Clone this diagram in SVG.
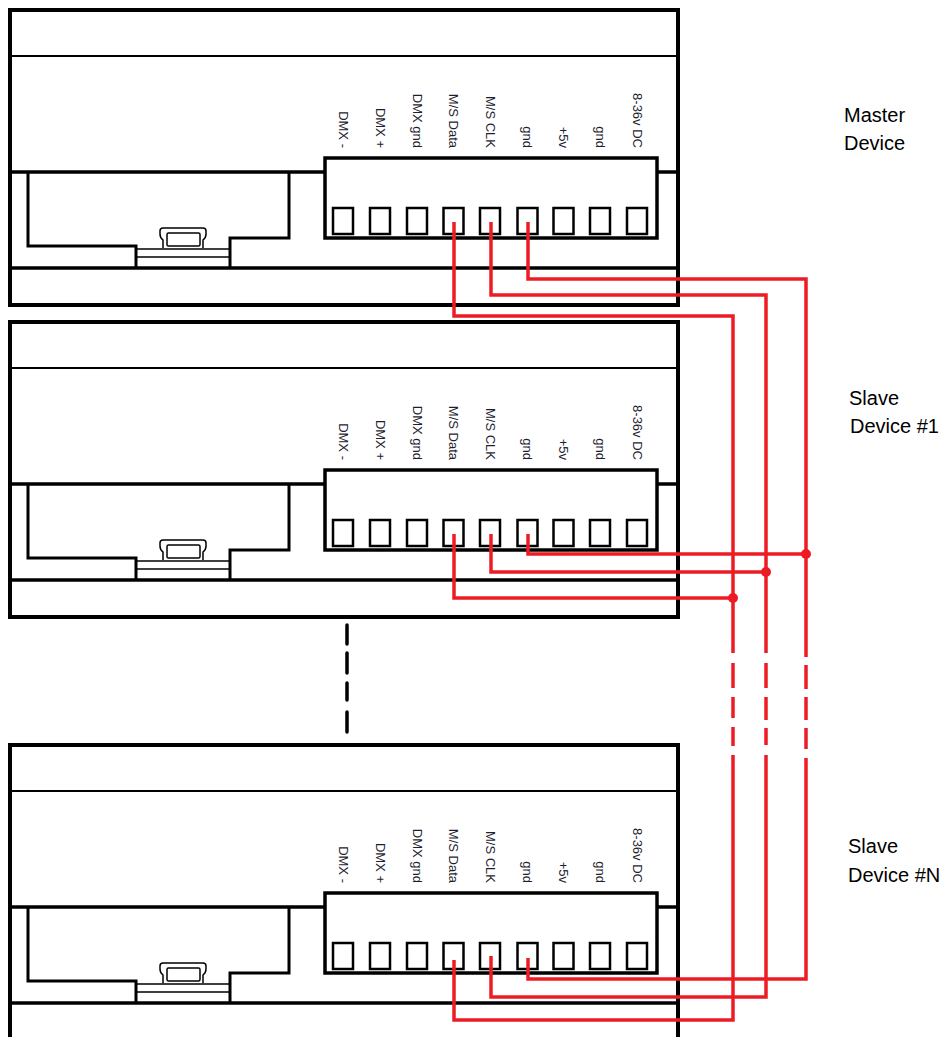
<svg xmlns="http://www.w3.org/2000/svg" xmlns:xlink="http://www.w3.org/1999/xlink" width="943" height="1037" viewBox="0 0 943 1037">
<style>
.blk{fill:none;stroke:#000;stroke-linejoin:miter}
.thick{stroke-width:4}
.med{stroke-width:3.5}
.thin{stroke-width:2}
.fine{stroke-width:1.5}
.sq{fill:#fff;stroke:#000;stroke-width:2.5}
.tl{font-family:"Liberation Sans",Arial,sans-serif;font-size:13px;fill:#1e1e30}
.dl{font-family:"Liberation Sans",Arial,sans-serif;font-size:20px;fill:#000}
.wire{fill:none;stroke:#ED1C24;stroke-width:3.5;stroke-linejoin:miter;stroke-linecap:butt}
.dot{fill:#ED1C24}
.bdash{fill:none;stroke:#000;stroke-width:3.5;stroke-linecap:round}
</style>
<defs>
<g id="body">
<rect x="10" y="10" width="668" height="295" fill="#fff" class="blk thick"/>
<line x1="10" y1="56" x2="678" y2="56" class="blk thin"/>
<path d="M10,172 H325 M657,172 H678" class="blk med"/>
<line x1="10" y1="268" x2="678" y2="268" class="blk med"/>
<path d="M28,172 V246 H136 V268 M230,268 V238 H289 V172" class="blk" stroke-width="3"/>
<path d="M136,249 H230 M136,257 H230" class="blk fine"/>
<path d="M163,248 V240 Q160,238 160,234 V231 Q160,228 163,228 H203 Q206,228 206,231 V234 Q206,238 203,240 V248" fill="#fff" class="blk fine"/>
<rect x="167" y="233" width="33" height="13" rx="1.5" class="blk fine"/>
<rect x="325" y="158" width="332" height="80" fill="#fff" class="blk med"/>
<rect x="333" y="208" width="20" height="26" class="sq"/>
<rect x="370" y="208" width="20" height="26" class="sq"/>
<rect x="407" y="208" width="20" height="26" class="sq"/>
<rect x="443.5" y="208" width="20" height="26" class="sq"/>
<rect x="480" y="208" width="20" height="26" class="sq"/>
<rect x="517.5" y="208" width="20" height="26" class="sq"/>
<rect x="553.5" y="208" width="20" height="26" class="sq"/>
<rect x="590" y="208" width="20" height="26" class="sq"/>
<rect x="627" y="208" width="20" height="26" class="sq"/>
</g>
</defs>

<g id="master-device">
<use xlink:href="#body" href="#body"/>
<g class="tl" text-anchor="end">
<text transform="translate(338.5,148) rotate(90)">DMX -</text>
<text transform="translate(375.5,148) rotate(90)">DMX +</text>
<text transform="translate(412.5,148) rotate(90)">DMX gnd</text>
<text transform="translate(449,148) rotate(90)">M/S Data</text>
<text transform="translate(485.5,148) rotate(90)">M/S CLK</text>
<text transform="translate(523,148) rotate(90)">gnd</text>
<text transform="translate(559,148) rotate(90)">+5v</text>
<text transform="translate(595.5,148) rotate(90)">gnd</text>
<text transform="translate(632.5,148) rotate(90)">8-36v DC</text>
</g>
<text class="dl" x="844" y="122">Master</text>
<text class="dl" x="844" y="150">Device</text>
</g>

<g id="slave-device-1">
<use xlink:href="#body" href="#body" transform="translate(0,312)"/>
<g class="tl" text-anchor="end">
<text transform="translate(338.5,460) rotate(90)">DMX -</text>
<text transform="translate(375.5,460) rotate(90)">DMX +</text>
<text transform="translate(412.5,460) rotate(90)">DMX gnd</text>
<text transform="translate(449,460) rotate(90)">M/S Data</text>
<text transform="translate(485.5,460) rotate(90)">M/S CLK</text>
<text transform="translate(523,460) rotate(90)">gnd</text>
<text transform="translate(559,460) rotate(90)">+5v</text>
<text transform="translate(595.5,460) rotate(90)">gnd</text>
<text transform="translate(632.5,460) rotate(90)">8-36v DC</text>
</g>
<text class="dl" x="849" y="405">Slave</text>
<text class="dl" x="850" y="433">Device #1</text>
</g>

<g id="slave-device-n">
<use xlink:href="#body" href="#body" transform="translate(0,735)"/>
<g class="tl" text-anchor="end">
<text transform="translate(338.5,883) rotate(90)">DMX -</text>
<text transform="translate(375.5,883) rotate(90)">DMX +</text>
<text transform="translate(412.5,883) rotate(90)">DMX gnd</text>
<text transform="translate(449,883) rotate(90)">M/S Data</text>
<text transform="translate(485.5,883) rotate(90)">M/S CLK</text>
<text transform="translate(523,883) rotate(90)">gnd</text>
<text transform="translate(559,883) rotate(90)">+5v</text>
<text transform="translate(595.5,883) rotate(90)">gnd</text>
<text transform="translate(632.5,883) rotate(90)">8-36v DC</text>
</g>
<text class="dl" x="848" y="853">Slave</text>
<text class="dl" x="848" y="882">Device #N</text>
</g>

<g id="connectors">
<path class="bdash" d="M347,625 V644 M347,653 V673 M347,683 V700 M347,712 V732"/>
<path class="wire" d="M454,222 V316 H733 V653"/>
<path class="wire" d="M491,222 V295 H766 V653"/>
<path class="wire" d="M528,222 V279 H806 V657"/>
<path class="wire" d="M454,534 V598 H733"/>
<path class="wire" d="M491,534 V572 H766"/>
<path class="wire" d="M528,534 V554 H806"/>
<circle class="dot" cx="733" cy="598" r="5"/>
<circle class="dot" cx="766" cy="572" r="5"/>
<circle class="dot" cx="806" cy="554" r="5"/>
<path class="wire" d="M733,663 V688 M733,697 V718 M733,727 V746 M766,663 V688 M766,697 V720 M766,728 V745 M806,665 V689 M806,697 V720 M806,728 V749"/>
<path class="wire" d="M733,755 V1020 H454 V960"/>
<path class="wire" d="M766,755 V997 H491 V956"/>
<path class="wire" d="M806,758 V979 H528 V958"/>
</g>
</svg>
